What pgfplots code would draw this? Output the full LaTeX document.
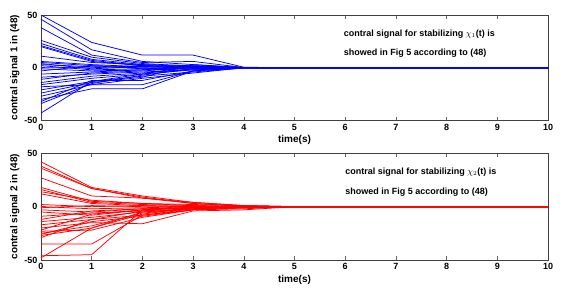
\documentclass[border=0pt]{standalone}
\usepackage{fontspec}
\setmainfont{Liberation Sans}
\usepackage{pgfplots}
\pgfplotsset{compat=1.18}
\tikzset{annot/.style={anchor=west, font=\bfseries\fontsize{9}{10}\selectfont, inner sep=0pt}}
\begin{document}
\begin{tikzpicture}
\pgfplotsset{
  myax/.style={
    scale only axis, width=507pt,
    xmin=0, xmax=10, ymin=-50, ymax=50,
    xtick={0,1,...,10}, ytick={-50,0,50},
    tick align=inside, tick pos=both,
    major tick length=4pt,
    axis line style={black!75, line width=0.8pt},
    tick style={black!60, line width=0.6pt},
    /pgf/number format/assume math mode=true,
    ticklabel style={font=\bfseries\fontsize{9}{10}\selectfont},
    label style={font=\bfseries\fontsize{10}{11}\selectfont},
    xlabel={time(s)},
    xlabel style={yshift=2pt},
    ylabel style={yshift=-2pt},
    every axis plot/.append style={line width=0.75pt},
    clip=true,
  }
}
\path (-41pt,-177.5pt) rectangle (529pt,120.5pt);
\begin{axis}[myax, height=105.5pt, at={(0pt,0pt)}, anchor=south west,
  ylabel={contral signal 1 in (48)}]
\pgfplotsset{cycle list={{blue}}}
\addplot coordinates {(0,50)(1,24)(2,12)(3,12)(4,0.5)(5,0)(10,0)};
\addplot coordinates {(0,46)(1,17)(2,6)(3,3)(4,0.3)(5,0)(10,0)};
\addplot coordinates {(0,38)(1,12)(2,5)(3,6)(4,0.2)(5,0)(10,0)};
\addplot coordinates {(0,26)(1,10)(2,4)(3,1.5)(4,0.2)(5,0)(10,0)};
\addplot coordinates {(0,23)(1,8)(2,3)(3,1)(4,0.1)(5,0)(10,0)};
\addplot coordinates {(0,21)(1,7)(2,2)(3,0.5)(4,0)(5,0)(10,0)};
\addplot coordinates {(0,20)(1,6)(2,2)(3,1)(4,0)(5,0)(10,0)};
\addplot coordinates {(0,11)(1,5)(2,3)(3,2)(4,0.2)(5,0)(10,0)};
\addplot coordinates {(0,6)(1,3)(2,1)(3,0.5)(4,0)(5,0)(10,0)};
\addplot coordinates {(0,5)(1,2)(2,-1)(3,0.5)(4,0)(5,0)(10,0)};
\addplot coordinates {(0,4)(1,-1)(2,1)(3,0)(4,0)(5,0)(10,0)};
\addplot coordinates {(0,3)(1,1)(2,0)(3,-1)(4,0)(5,0)(10,0)};
\addplot coordinates {(0,2)(1,-2)(2,-1)(3,0.5)(4,0)(5,0)(10,0)};
\addplot coordinates {(0,0)(1,0)(2,2)(3,1)(4,0)(5,0)(10,0)};
\addplot coordinates {(0,-1)(1,-3)(2,-2)(3,-1)(4,0)(5,0)(10,0)};
\addplot coordinates {(0,-3)(1,2)(2,1)(3,0)(4,0)(5,0)(10,0)};
\addplot coordinates {(0,-6)(1,-4)(2,-2)(3,1)(4,0)(5,0)(10,0)};
\addplot coordinates {(0,-9)(1,-6)(2,-4)(3,-2)(4,0)(5,0)(10,0)};
\addplot coordinates {(0,-11)(1,-5)(2,-3)(3,0)(4,0)(5,0)(10,0)};
\addplot coordinates {(0,-14)(1,-8)(2,-5)(3,-1)(4,0)(5,0)(10,0)};
\addplot coordinates {(0,-16)(1,-10)(2,-6)(3,-2)(4,0)(5,0)(10,0)};
\addplot coordinates {(0,-18)(1,-16)(2,-16)(3,-3)(4,0)(5,0)(10,0)};
\addplot coordinates {(0,-21)(1,-13)(2,-8)(3,-4)(4,-0.3)(5,0)(10,0)};
\addplot coordinates {(0,-24)(1,-14)(2,-9)(3,3)(4,0)(5,0)(10,0)};
\addplot coordinates {(0,-27)(1,-16)(2,-10)(3,-5)(4,0)(5,0)(10,0)};
\addplot coordinates {(0,-30)(1,-20)(2,-20)(3,-3)(4,0)(5,0)(10,0)};
\addplot coordinates {(0,-32)(1,-12)(2,-12)(3,-3)(4,0)(5,0)(10,0)};
\addplot coordinates {(0,-34)(1,-15)(2,-7)(3,-1)(4,0)(5,0)(10,0)};
\addplot coordinates {(0,-43)(1,-13)(2,-6)(3,2)(4,0)(5,0)(10,0)};
\node[annot] at (axis cs:5.97,32) {contral signal for stabilizing $\chi_1$(t) is};
\node[annot] at (axis cs:5.97,14) {showed in Fig 5 according to (48)};
\end{axis}
\begin{axis}[myax, height=106.7pt, at={(0pt,-32.8pt)}, anchor=north west,
  ylabel={contral signal 2 in (48)}]
\pgfplotsset{cycle list={{red}}}
\addplot coordinates {(0,42)(1,18)(2,10)(3,4)(4,1)(5,0)(10,0)};
\addplot coordinates {(0,38)(1,17)(2,9)(3,3)(4,0.5)(5,0)(10,0)};
\addplot coordinates {(0,36)(1,17)(2,8)(3,4)(4,1)(5,0)(10,0)};
\addplot coordinates {(0,27)(1,10)(2,8)(3,3)(4,0.5)(5,0)(10,0)};
\addplot coordinates {(0,18)(1,5)(2,3)(3,2)(4,1)(5,0)(10,0)};
\addplot coordinates {(0,16)(1,4)(2,2)(3,1)(4,0)(5,0)(10,0)};
\addplot coordinates {(0,14)(1,6)(2,3)(3,1)(4,0)(5,0)(10,0)};
\addplot coordinates {(0,12)(1,3)(2,1)(3,0)(4,0)(5,0)(10,0)};
\addplot coordinates {(0,2)(1,0)(2,1)(3,0)(4,0)(5,0)(10,0)};
\addplot coordinates {(0,0)(1,-2)(2,-1)(3,0)(4,0)(5,0)(10,0)};
\addplot coordinates {(0,-1)(1,1)(2,0)(3,0)(4,0)(5,0)(10,0)};
\addplot coordinates {(0,-3)(1,-5)(2,-2)(3,-1)(4,0)(5,0)(10,0)};
\addplot coordinates {(0,-5)(1,-8)(2,-3)(3,1)(4,0)(5,0)(10,0)};
\addplot coordinates {(0,-9)(1,-6)(2,-4)(3,-2)(4,-1)(5,0)(10,0)};
\addplot coordinates {(0,-12)(1,-4)(2,-2)(3,-1)(4,0)(5,0)(10,0)};
\addplot coordinates {(0,-14)(1,-10)(2,-5)(3,-2)(4,-1)(5,0)(10,0)};
\addplot coordinates {(0,-17)(1,-12)(2,-8)(3,-3)(4,-2)(5,0)(10,0)};
\addplot coordinates {(0,-20)(1,-15)(2,-16)(3,-4)(4,-3)(5,0)(10,0)};
\addplot coordinates {(0,-23)(1,-22)(2,-10)(3,-3)(4,-1)(5,0)(10,0)};
\addplot coordinates {(0,-25)(1,-18)(2,-6)(3,-2)(4,0)(5,0)(10,0)};
\addplot coordinates {(0,-27)(1,-20)(2,-7)(3,-1)(4,0)(5,0)(10,0)};
\addplot coordinates {(0,-29)(1,-12)(2,-4)(3,0)(4,0)(5,0)(10,0)};
\addplot coordinates {(0,-35)(1,-35)(2,-8)(3,-2)(4,0)(5,0)(10,0)};
\addplot coordinates {(0,-46)(1,-45)(2,-3)(3,-1)(4,0)(5,0)(10,0)};
\addplot coordinates {(0,-48)(1,-20)(2,-5)(3,-2)(4,0)(5,0)(10,0)};
\addplot coordinates {(0,-26)(1,-14)(2,-9)(3,-3)(4,-1)(5,0)(10,0)};
\addplot coordinates {(0,-22)(1,-7)(2,-3)(3,-1)(4,0)(5,0)(10,0)};
\node[annot] at (axis cs:6.0,32) {contral signal for stabilizing $\chi_2$(t) is};
\node[annot] at (axis cs:6.0,14) {showed in Fig 5 according to (48)};
\end{axis}
\end{tikzpicture}
\end{document}
